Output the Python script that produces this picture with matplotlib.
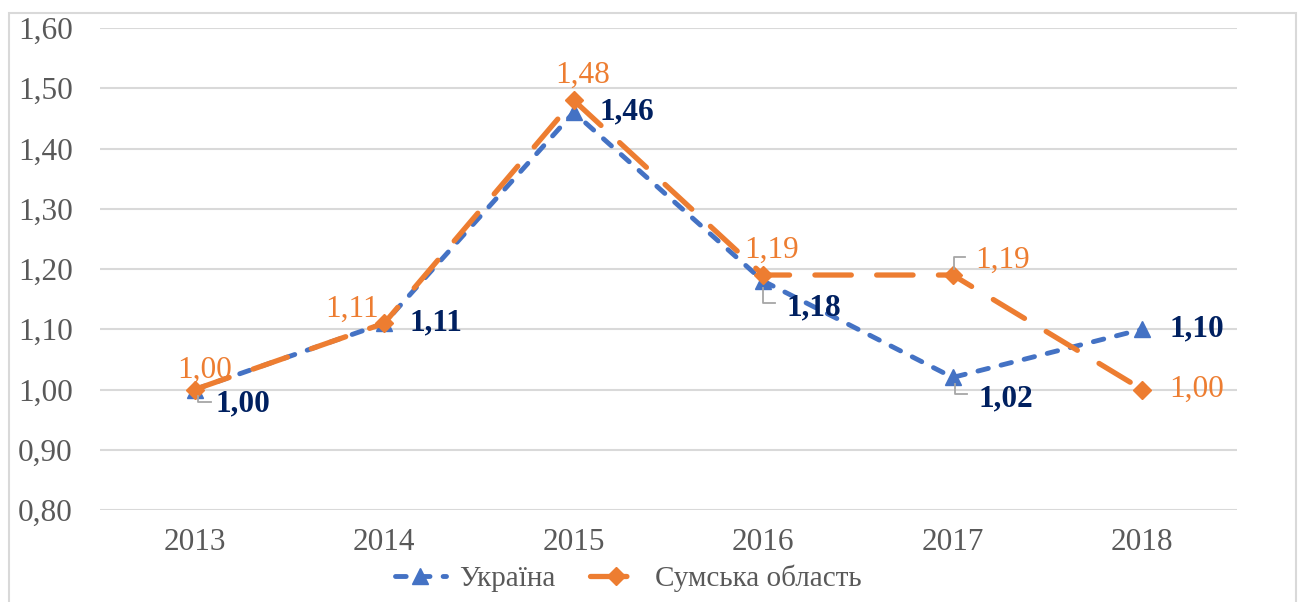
import matplotlib
matplotlib.use("Agg")
import matplotlib.pyplot as plt
import matplotlib.transforms as mtransforms
from matplotlib.patches import Rectangle

plt.rcParams['font.family'] = ['Liberation Serif', 'DejaVu Serif']

years = ['2013', '2014', '2015', '2016', '2017', '2018']
ukraine = [1.00, 1.11, 1.46, 1.18, 1.02, 1.10]
sumy = [1.00, 1.11, 1.48, 1.19, 1.19, 1.00]
ukraine_labels = ['1,00', '1,11', '1,46', '1,18', '1,02', '1,10']
sumy_labels = ['1,00', '1,11', '1,48', '1,19', '1,19', '1,00']
yticks = [0.80, 0.90, 1.00, 1.10, 1.20, 1.30, 1.40, 1.50, 1.60]
ytick_labels = ['0,80', '0,90', '1,00', '1,10', '1,20', '1,30', '1,40', '1,50', '1,60']
series_names = ['Україна', 'Сумська область']

W, H = 1301, 602
fig = plt.figure(figsize=(W / 100, H / 100), dpi=100)
ax = fig.add_axes([100 / W, 1 - 510 / H, (1237 - 100) / W, (510 - 28) / H])

# outer chart border
fig.patches.append(Rectangle((8.5 / W, -0.05), (1296 - 8.5) / W, 1.05 - 12.5 / H,
                             transform=fig.transFigure, fill=False,
                             edgecolor='#d9d9d9', linewidth=1.5))

BLUE = '#4472C4'
ORANGE = '#ED7D31'
NAVY = '#002060'
GRAY = '#595959'
FS = 22.5

x = list(range(len(years)))
ax.plot(x, ukraine, color=BLUE, linewidth=3.5, linestyle=(0, (2.2, 2.7)),
        dash_capstyle='round', marker='^', markersize=12, label=series_names[0], zorder=3)
ax.plot(x, sumy, color=ORANGE, linewidth=3.8, linestyle=(0, (6.9, 4.8)),
        dash_capstyle='round', marker='D', markersize=9.5, label=series_names[1], zorder=4)

ax.set_xlim(-0.5, len(years) - 0.5)
ax.set_ylim(0.80, 1.60)
ax.set_yticks(yticks)
ax.set_yticklabels(ytick_labels)
ax.set_xticks(x)
ax.set_xticklabels(years)
ax.tick_params(axis='both', length=0, labelsize=FS, colors=GRAY)
ax.tick_params(axis='y', pad=59)
ax.tick_params(axis='x', pad=13)
for lab in ax.get_yticklabels():
    lab.set_horizontalalignment('left')
ax.grid(axis='y', color='#d9d9d9', linewidth=1.5)
ax.set_axisbelow(True)
for s in ax.spines.values():
    s.set_visible(False)

# data labels: offsets in pixels (right, up) relative to points
uk_off = [(21, -14), (25, 0), (26, 0), (23, -27), (26, -21), (27, 0)]
su_off = [(-18, 19), (-59, 14), (-18, 25), (-19, 25), (23, 15), (27, 0)]
for i in x:
    ax.annotate(ukraine_labels[i], (i, ukraine[i]), xytext=uk_off[i], textcoords='offset pixels',
                ha='left', va='center', fontsize=FS, fontweight='bold', color=NAVY, zorder=6)
    ax.annotate(sumy_labels[i], (i, sumy[i]), xytext=su_off[i], textcoords='offset pixels',
                ha='left', va='center', fontsize=FS, color=ORANGE, zorder=6)

# leader lines (pixel offsets from the data point)
def leader(xi, yi, pts):
    tr = fig.dpi_scale_trans + mtransforms.ScaledTranslation(xi, yi, ax.transData)
    ax.plot([p[0] / 100 for p in pts], [p[1] / 100 for p in pts], transform=tr,
            color='#a6a6a6', linewidth=1.3, zorder=5, clip_on=False)

leader(0, ukraine[0], [(3, -6), (3, -12), (16, -12)])
leader(3, ukraine[3], [(0, -7), (0, -22), (12, -22)])
leader(4, ukraine[4], [(2, -7), (2, -17), (14, -17)])
leader(4, sumy[4], [(1, 6), (1, 18), (12, 18)])

leg = fig.legend(loc='center', bbox_to_anchor=(628 / W, 1 - 578 / H), ncol=2, frameon=False,
                 fontsize=21, handlelength=1.75, columnspacing=1.2, handletextpad=0.45)
for t in leg.get_texts():
    t.set_color(GRAY)

fig.savefig('out.png', dpi=100)
